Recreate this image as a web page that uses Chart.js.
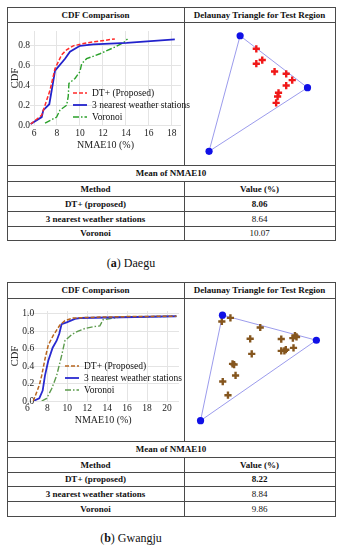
<!DOCTYPE html>
<html><head><meta charset="utf-8">
<script src="https://cdn.jsdelivr.net/npm/chart.js@4.4.1/dist/chart.umd.min.js"></script>
<style>
body{margin:0;background:#fff;width:342px;height:550px;position:relative;overflow:hidden;font-family:'Liberation Serif','Times New Roman',serif;color:#111}
.ln{position:absolute;background:#4a4a4a}
.t{position:absolute;font-size:9px;text-align:center;white-space:nowrap}
.b{font-weight:bold}
canvas{position:absolute}
.leg{position:absolute;font-size:9.5px;line-height:12px;color:#111}
.leg div{display:flex;align-items:center;height:12px;white-space:nowrap}
.leg svg{margin-right:5px;flex:none}
.cap{position:absolute;left:0;width:262px;text-align:center;font-size:12px;line-height:14px}
</style>
</head><body>
<script>
// ---------- DATA ----------
// (a) Daegu CDF of NMAE10 (%)
const daeguDT_x   = [5.71,6.67,6.96,7.39,7.83,8.41,8.84,9.42,10.58,13.04];
const daeguDT_y   = [0.01,0.10,0.20,0.35,0.57,0.71,0.76,0.80,0.83,0.87];
const daeguNear_x = [5.71,6.67,6.81,7.33,7.54,7.83,8.70,9.13,10.0,11.16,14.06,18.26];
const daeguNear_y = [0.01,0.08,0.15,0.21,0.35,0.55,0.67,0.74,0.80,0.815,0.83,0.865];
const daeguVor_x  = [6.96,7.97,8.26,8.84,8.98,9.04,9.57,10.0,10.15,10.58,11.74,12.9,13.77,14.14];
const daeguVor_y  = [0.02,0.08,0.15,0.20,0.29,0.42,0.47,0.54,0.62,0.67,0.72,0.78,0.83,0.87];
// (b) Gwangju CDF of NMAE10 (%)
const gwangjuDT_x   = [6.6,6.87,7.2,7.44,7.77,8.1,8.6,9.27,9.77,10.6,13.27,16.6,20.94];
const gwangjuDT_y   = [0,0.08,0.18,0.29,0.48,0.64,0.75,0.87,0.92,0.95,0.96,0.967,0.97];
const gwangjuNear_x = [6.6,7.2,7.54,7.77,8.1,8.54,8.94,9.2,9.44,9.94,10.77,11.27,20.94];
const gwangjuNear_y = [0,0.03,0.12,0.29,0.46,0.61,0.69,0.77,0.88,0.90,0.94,0.95,0.97];
const gwangjuVor_x  = [7.44,7.94,8.44,8.94,9.44,9.77,10.44,11.1,11.77,12.6,13.27,13.6,15.27,20.94];
const gwangjuVor_y  = [0,0.03,0.14,0.29,0.52,0.69,0.76,0.80,0.83,0.85,0.86,0.93,0.96,0.97];

const seriesNames = ['DT+ (Proposed)','3 nearest weather stations','Voronoi'];
const xTicksDaegu = [6,8,10,12,14,16,18];
const xTicksGwangju = [6,8,10,12,14,16,18,20];
const yTicks = [0.0,0.2,0.4,0.6,0.8,1.0];

// Delaunay triangle: station positions and test sites (local map units, east / north)
const daeguStations_x = [53.3,127,19.3];
const daeguStations_y = [135,78,8];
const daeguTests_x = [71,71,77.5,91,103.7,110.3,103.7,95.3,94.3,92.7];
const daeguTests_y = [120.7,104.3,108.3,95.7,93.2,86.2,80.3,72.3,68.2,61.3];
const gwangjuStations_x = [34,136.7,10];
const gwangjuStations_y = [131.3,103.7,15.3];
const gwangjuTests_x = [33.3,42.7,75.3,64.3,98.3,111,113.3,115,111.7,103.3,101.7,98.3,66,45,46.7,48.3,34.3,40];
const gwangjuTests_y = [124.3,128.3,117.7,105.3,105,106,108.7,107.3,95.3,93.3,92,92,88.7,77.7,77,65,58.3,43.3];

// Mean of NMAE10 table
const methods = ['DT+ (proposed)','3 nearest weather stations','Voronoi'];
const daeguMeans = ['8.06','8.64','10.07'];
const gwangjuMeans = ['8.22','8.84','9.86'];

// ---------- LAYOUT HELPERS ----------
const FONT = "'Liberation Serif','Times New Roman',serif";
function el(tag, cls, style, html){const e=document.createElement(tag); if(cls)e.className=cls; Object.assign(e.style,style||{}); if(html!==undefined)e.innerHTML=html; document.body.appendChild(e); return e;}
function hline(y,x1,x2){el('div','ln',{left:x1+'px',top:y+'px',width:(x2-x1+1)+'px',height:'1px'});}
function vline(x,y1,y2){el('div','ln',{left:x+'px',top:y1+'px',width:'1px',height:(y2-y1+1)+'px'});}
function text(t,x1,x2,y1,y2,bold){el('div','t'+(bold?' b':''),{left:x1+'px',width:(x2-x1)+'px',top:y1+'px',height:(y2-y1)+'px',lineHeight:(y2-y1)+'px'},t);}

const L=7,R=335,M=184;
function buildTable(lines, means, letter, city, capY){
  lines.forEach(y=>hline(y,L,R));
  vline(L,lines[0],lines[7]); vline(R,lines[0],lines[7]);
  vline(M,lines[0],lines[2]); vline(M,lines[3],lines[7]);
  text('CDF Comparison',L,M,lines[0]+1,lines[1],true);
  text('Delaunay Triangle for Test Region',M,R,lines[0]+1,lines[1],true);
  text('Mean of NMAE10',L,R,lines[2]+1,lines[3],true);
  text('Method',L,M,lines[3]+1,lines[4],true);
  text('Value (%)',M,R,lines[3]+1,lines[4],true);
  for(let i=0;i<3;i++){
    text(methods[i],L,M,lines[4+i]+1,lines[5+i],true);
    text(means[i],M,R,lines[4+i]+1,lines[5+i],i===0);
  }
  el('div','cap',{top:(capY-7)+'px'},'(<b>'+letter+'</b>) '+city);
}

function mkCanvas(x,y,w,h){const c=el('canvas','',{left:x+'px',top:y+'px'}); c.width=w; c.height=h; return c;}

function cdfChart(canvas, xs, ys, colors, dashes, widths, opt){
  const datasets = xs.map((xa,i)=>({
    label: seriesNames[i],
    data: xa.map((v,j)=>({x:v,y:ys[i][j]})),
    borderColor: colors[i], borderDash: dashes[i], borderWidth: widths[i],
    pointRadius:0, fill:false, tension:0
  }));
  datasets[0].order=0; datasets[1].order=1; datasets[2].order=2;
  const ch = new Chart(canvas,{
    type:'line',
    data:{datasets},
    options:{
      responsive:false, animation:false, devicePixelRatio:1,
      layout:{padding:{left:0,top:opt.padTop,right:opt.padRight,bottom:0}},
      plugins:{legend:{display:false},tooltip:{enabled:false}},
      scales:{
        x:{type:'linear',min:opt.xmin,max:opt.xmax,
           afterFit:s=>{s.height=opt.xAxisH;},
           afterBuildTicks:s=>{s.ticks=opt.xticks.map(v=>({value:v}));},
           grid:{color:'#e4e4e4',drawTicks:false}, border:{display:false},
           ticks:{color:'#222',font:{family:FONT,size:9.5},padding:opt.xTickPad,maxRotation:0,autoSkip:false,callback:v=>String(v)},
           title:{display:true,text:'NMAE10 (%)',color:'#222',font:{family:FONT,size:10},padding:{top:0,bottom:opt.titlePad}}},
        y:{type:'linear',min:0,max:opt.ymax,
           afterFit:s=>{s.width=opt.yAxisW;},
           afterBuildTicks:s=>{s.ticks=yTicks.filter(v=>v<=opt.ymax).map(v=>({value:v}));},
           grid:{color:'#e4e4e4',drawTicks:false}, border:{display:false},
           ticks:{color:'#222',font:{family:FONT,size:9.5},mirror:opt.yMirror,padding:opt.yTickPad,callback:v=>v.toFixed(1)},
           title:{display:true,text:'CDF',color:'#222',font:{family:FONT,size:10.5},padding:{top:1,bottom:0}}}
      }
    }
  });
  // HTML legend built from the chart's datasets
  const lg = el('div','leg',{left:opt.legX+'px',top:opt.legY+'px'});
  seriesNames.forEach((n,i)=>{
    const ds = ch.data.datasets[i];
    const row=document.createElement('div');
    const da = ds.borderDash && ds.borderDash.length ? ds.borderDash.join(',') : 'none';
    row.innerHTML='<svg width="14" height="4"><line x1="0" y1="2" x2="14" y2="2" stroke="'+ds.borderColor+'" stroke-width="'+ds.borderWidth+'" stroke-dasharray="'+da+'"/></svg><span>'+n+'</span>';
    lg.appendChild(row);
  });
  return ch;
}

function triChart(canvas, sx, sy, tx, ty, w, h, crossColor){
  const st = sx.map((v,i)=>({x:v,y:sy[i]}));
  return new Chart(canvas,{
    type:'scatter',
    data:{datasets:[
      {type:'line',data:st.concat([st[0]]),borderColor:'rgba(150,150,235,0.95)',borderWidth:1,pointRadius:0,fill:false,order:3},
      {data:tx.map((v,i)=>({x:v,y:ty[i]})),pointStyle:'cross',pointRadius:3.6,borderWidth:2.4,
       borderColor:crossColor,backgroundColor:crossColor,order:2},
      {data:st,pointStyle:'circle',pointRadius:3.6,borderWidth:0,backgroundColor:'#1010e6',borderColor:'#1010e6',order:1}
    ]},
    options:{
      responsive:false, animation:false, devicePixelRatio:1,
      layout:{padding:0},
      plugins:{legend:{display:false},tooltip:{enabled:false}},
      scales:{x:{type:'linear',display:false,min:0,max:w},y:{type:'linear',display:false,min:0,max:h}}
    }
  });
}

// ---------- BUILD ----------
const linesA=[7,22,165,181,196,211,226,240];
const linesB=[282,298,441,457,472,486,501,516];
buildTable(linesA,daeguMeans,'a','Daegu',263);
buildTable(linesB,gwangjuMeans,'b','Gwangju',538);

cdfChart(mkCanvas(8,23,175,142),
  [daeguDT_x,daeguNear_x,daeguVor_x],[daeguDT_y,daeguNear_y,daeguVor_y],
  ['#ff2a2a','#2222cc','#2aa02a'],[[4,2],[],[6,2,1.5,2]],[1.5,1.8,1.4],
  {xmin:5.65,xmax:18.8,ymax:0.95,padTop:8,padRight:2,xAxisH:40,yAxisW:22,xTickPad:3,yMirror:false,yTickPad:0,titlePad:14,xticks:xTicksDaegu,legX:73,legY:87});

cdfChart(mkCanvas(8,299,175,142),
  [gwangjuDT_x,gwangjuNear_x,gwangjuVor_x],[gwangjuDT_y,gwangjuNear_y,gwangjuVor_y],
  ['#b8651e','#2a2ad0','#5c9a4c'],[[4,2],[],[6,2,1.5,2]],[1.5,1.8,1.4],
  {xmin:6,xmax:21.2,ymax:1.03,padTop:12,padRight:4,xAxisH:40,yAxisW:19.3,xTickPad:2,yMirror:true,yTickPad:-5,titlePad:15,xticks:xTicksGwangju,legX:65,legY:360});

triChart(mkCanvas(185,23,149,142),daeguStations_x,daeguStations_y,daeguTests_x,daeguTests_y,149,142,'#f01818');
triChart(mkCanvas(185,299,149,142),gwangjuStations_x,gwangjuStations_y,gwangjuTests_x,gwangjuTests_y,149,142,'#85561e');
</script>
</body></html>
